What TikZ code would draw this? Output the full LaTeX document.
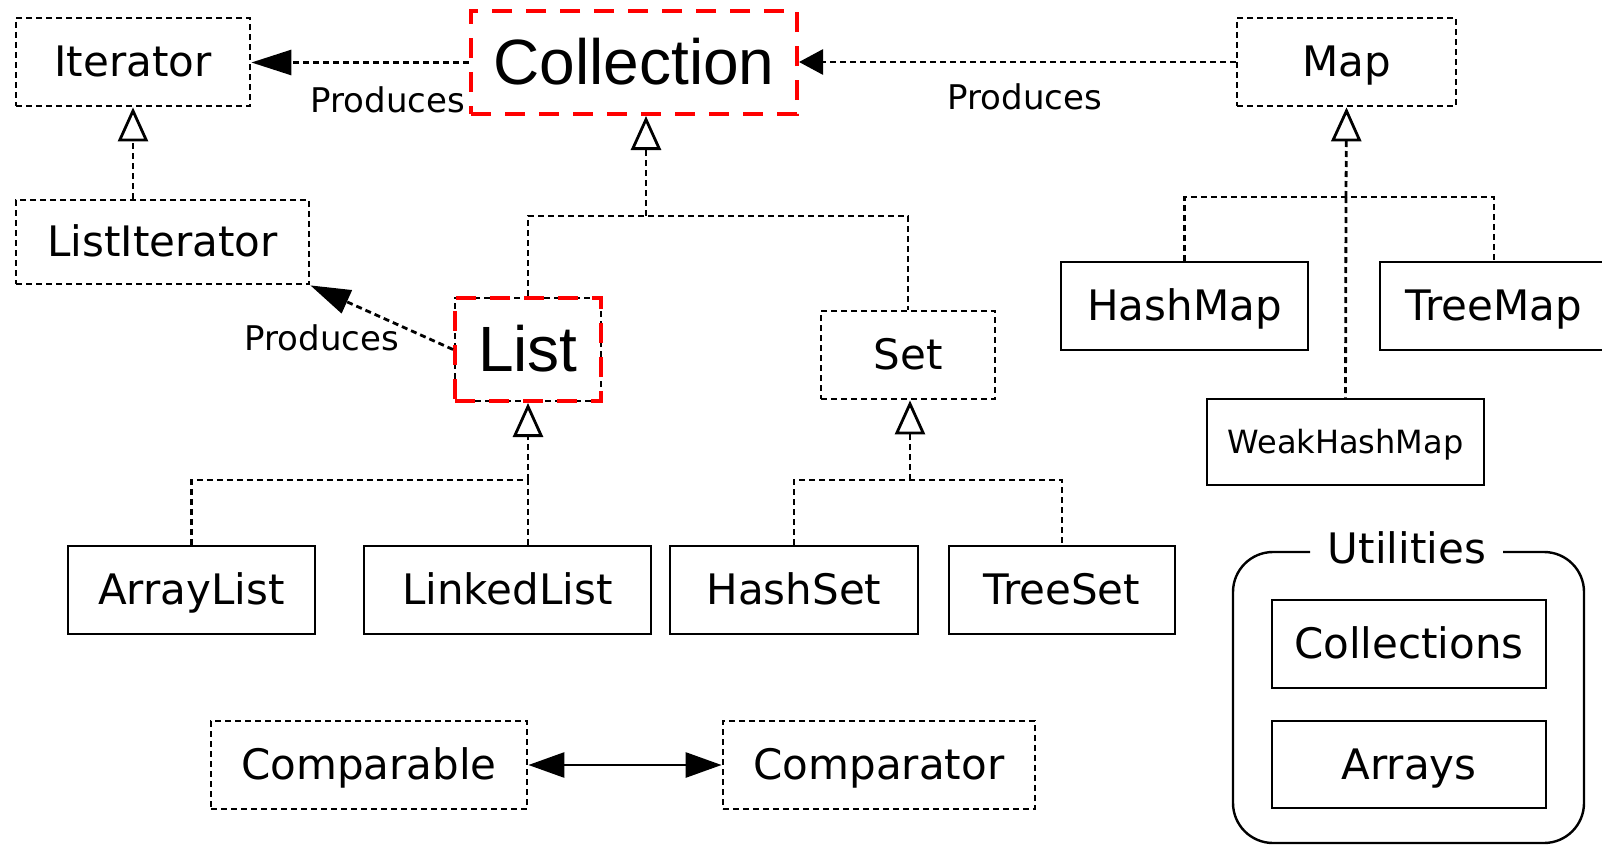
\documentclass[tikz,border=0pt]{standalone}
\usepackage{fontspec}
\setmainfont{DejaVu Sans}
\newfontfamily\arialf{Liberation Sans}
\usetikzlibrary{arrows.meta}
\begin{document}
\begin{tikzpicture}[x=0.5pt,y=-0.5pt,
  dotline/.style={line width=1.4pt, dash pattern=on 3pt off 2pt},
  base/.style={rectangle, inner sep=0pt, font=\fontsize{21}{25}\selectfont, text height=15.3pt, text depth=0.5pt, minimum height=44pt},
  dotbox/.style={base, draw, dotline},
  solidbox/.style={base, draw, line width=1.4pt},
  redbox/.style={rectangle, inner sep=0pt, draw=red, line width=2pt, dash pattern=on 10pt off 7pt, font=\arialf\fontsize{32}{38}\selectfont, text height=22.9pt, text depth=0.5pt},
  prod/.style={dotline, -{Triangle[length=20pt,width=12.5pt]}},
  inh/.style={dotline, -{Triangle[open, length=17pt, width=15pt, line width=1.4pt]}},
  both/.style={line width=1.4pt, {Triangle[length=18pt,width=12.5pt]}-{Triangle[length=18pt,width=12.5pt]}},
  lbl/.style={inner sep=0pt, font=\fontsize{17}{20}\selectfont, text height=12.4pt, text depth=0.5pt},
]
\useasboundingbox (0,0) rectangle (1602,846);
\fill[white] (0,0) rectangle (1602,846);
\clip (0,0) rectangle (1602,846);

% nodes
\node[dotbox, minimum width=117pt] (iter) at (133,62) {Iterator};
\node[redbox, fill=white, minimum width=163pt, minimum height=51.5pt] (coll) at (634,62.5) {Collection};
\node[dotbox, minimum width=109.5pt] (map) at (1346.5,62) {Map};
\node[dotbox, minimum width=146.5pt, minimum height=42pt] (lit) at (162.5,242) {ListIterator};
\node[redbox, minimum width=73pt, minimum height=51.5pt, preaction={draw=black, line width=0.6pt, dash pattern=on 3pt off 2pt}] (list) at (528,349.5) {List};
\node[dotbox, minimum width=87pt] (set) at (908,355) {Set};
\node[solidbox, minimum width=123.5pt] (hmap) at (1184.5,306) {HashMap};
\node[solidbox, minimum width=114pt] (tmap) at (1494,306) {TreeMap};
\node[solidbox, minimum width=138.5pt, minimum height=43pt, font=\fontsize{16}{19}\selectfont, text height=11.7pt] (whm) at (1345.5,442) {WeakHashMap};
\node[solidbox, minimum width=123.5pt] (al) at (191.5,590) {ArrayList};
\node[solidbox, minimum width=143.5pt] (ll) at (507.5,590) {LinkedList};
\node[solidbox, minimum width=124pt] (hs) at (794,590) {HashSet};
\node[solidbox, minimum width=113pt] (ts) at (1062,590) {TreeSet};
\node[dotbox, minimum width=158pt] (cmpble) at (369,765) {Comparable};
\node[dotbox, minimum width=156pt] (cmptor) at (879,765) {Comparator};

% utilities group
\draw[line width=1.2pt, rounded corners=20pt] (1310,552) -- (1233,552) -- (1233,843) -- (1584,843) -- (1584,552) -- (1503,552);
\node[lbl, font=\fontsize{21}{25}\selectfont, text height=15.3pt] (util) at (1407,549) {Utilities};
\node[solidbox, minimum width=137pt] (colls) at (1409,644) {Collections};
\node[solidbox, minimum width=137pt, minimum height=43.5pt] (arrs) at (1409,764.5) {Arrays};

% produces connectors
\draw[prod] (coll.west) -- (coll.west -| iter.east);
\node[lbl] (p1) at (388,101) {Produces};
\draw[dotline, -{Triangle[length=12pt,width=12.5pt]}] (map.west) -- (map.west -| coll.east);
\node[lbl] (p2) at (1025,98) {Produces};
\draw[prod] (list.west) -- (lit.south east);
\node[lbl] (p3) at (322,339) {Produces};

% inheritance
\draw[inh] (iter.south |- lit.north) -- (iter.south);

\coordinate (cj) at (646,216);
\draw[inh] (cj) -- (cj |- coll.south);
\draw[dotline] (list.north) |- (cj) -| (set.north);

\coordinate (lj) at (528,480);
\draw[inh] (lj) -- (list.south);
\draw[dotline] (al.north) |- (lj) -- (lj |- ll.north);

\coordinate (sj) at (910,480);
\draw[inh] (sj) -- (sj |- set.south);
\draw[dotline] (hs.north) |- (sj) -| (ts.north);

\coordinate (mj) at (1346,197);
\draw[inh] (mj) -- (map.south);
\draw[dotline] (hmap.north) |- (mj) -| (tmap.north);
\draw[dotline] (mj) -- (whm.north);

% comparable <-> comparator
\draw[both] (cmpble.east) -- (cmptor.west);
\end{tikzpicture}
\end{document}
